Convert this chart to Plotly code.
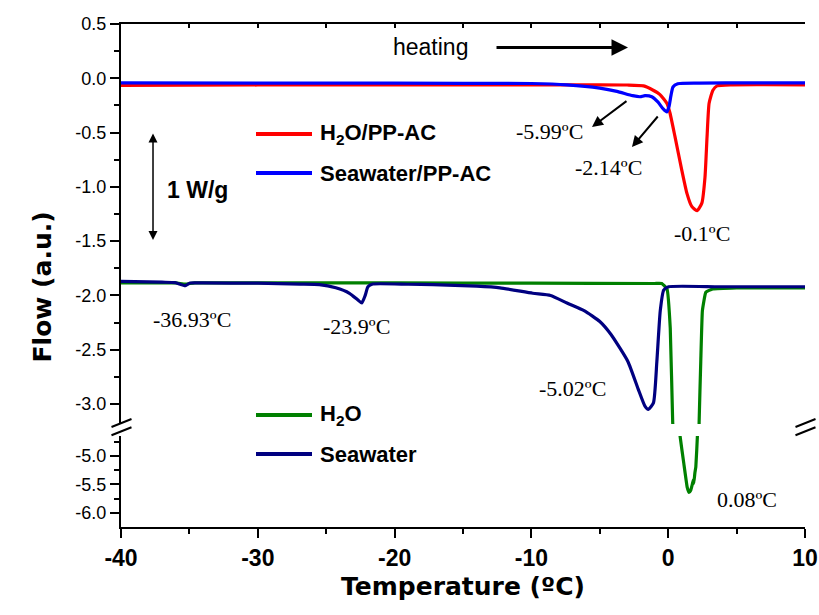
import plotly.graph_objects as go

# ---------------- data ----------------
h2o_ppac_t = [-40, -30, -20, -10, -5, -3, -1.8, -1.1, -0.6, -0.1, 0.13, 0.5, 1.0, 1.37, 1.72,
              2.1, 2.46, 2.69, 2.84, 2.99, 3.27, 3.57, 4.7, 7, 10]
h2o_ppac_flow = [-0.065, -0.062, -0.06, -0.06, -0.06, -0.062, -0.07, -0.11, -0.15, -0.23, -0.32,
                 -0.54, -0.85, -1.06, -1.18, -1.22, -1.15, -0.91, -0.54, -0.23, -0.11, -0.07,
                 -0.06, -0.058, -0.062]

sea_ppac_t = [-40, -25, -15, -10, -7.4, -5.0, -3.75, -2.6, -2.05, -1.7, -1.2, -0.74, -0.38,
              -0.1, 0.06, 0.2, 0.35, 0.7, 2.3, 6, 10]
sea_ppac_flow = [-0.043, -0.045, -0.046, -0.048, -0.06, -0.09, -0.12, -0.16, -0.17, -0.16,
                 -0.17, -0.22, -0.28, -0.31, -0.26, -0.16, -0.08, -0.05, -0.045, -0.042, -0.042]

h2o_t = [-40, -36, -35.3, -34.6, -20, -10, -1, -0.47, -0.09, 0.15, 0.33, 0.85, 1.14, 1.39,
         1.52, 1.65, 1.77, 1.84, 1.87, 1.95, 2.02, 2.14, 2.26, 2.38, 2.5, 2.75, 3.25, 5, 10]
h2o_flow = [-1.885, -1.885, -1.895, -1.885, -1.885, -1.887, -1.89, -1.89, -1.94, -2.3, -3.17,
            -4.62, -5.13, -5.55, -5.64, -5.6, -5.49, -5.42, -5.48, -5.3, -5.19, -4.62, -3.17,
            -2.61, -2.14, -1.97, -1.94, -1.93, -1.93]

sea_t = [-40, -37, -36.05, -35.3, -34.95, -34, -30, -26.9, -25.5, -24.3, -23.3, -22.7, -22.4,
         -22.15, -21.95, -21.6, -19, -17.2, -14, -12.3, -9.9, -8.6, -7.4, -6.15, -5.0, -4.18,
         -2.94, -2.2, -1.7, -1.45, -1.08, -0.83, -0.58, -0.33, 0.03, 3.75, 10]
sea_flow = [-1.87, -1.878, -1.882, -1.91, -1.885, -1.885, -1.887, -1.895, -1.9, -1.93, -1.98,
            -2.04, -2.07, -2.0, -1.92, -1.895, -1.897, -1.9, -1.915, -1.93, -1.98, -2.0, -2.07,
            -2.14, -2.24, -2.36, -2.61, -2.86, -3.02, -3.05, -2.99, -2.61, -2.14, -1.95, -1.92,
            -1.92, -1.92]

x_tick_vals = [-40, -30, -20, -10, 0, 10]
x_tick_text = ["-40", "-30", "-20", "-10", "0", "10"]
y_up_tick_vals = [0.5, 0.0, -0.5, -1.0, -1.5, -2.0, -2.5, -3.0]
y_up_tick_text = ["0.5", "0.0", "-0.5", "-1.0", "-1.5", "-2.0", "-2.5", "-3.0"]
y_lo_tick_vals = [-5.0, -5.5, -6.0]
y_lo_tick_text = ["-5.0", "-5.5", "-6.0"]

# peak labels: (text, x, y, axis) -- upper axis 'u', lower axis 'l'
peak_text = ["-5.99ºC", "-2.14ºC", "-0.1ºC", "-36.93ºC", "-23.9ºC", "-5.02ºC", "0.08ºC"]
peak_x = [-8.71, -4.33, 2.47, -34.81, -22.82, -6.96, 5.76]
peak_y = [-0.486, -0.817, -1.434, -2.226, -2.282, -2.853, -5.77]
peak_axis = ["u", "u", "u", "u", "u", "u", "l"]

names = ["H<sub>2</sub>O/PP-AC", "Seawater/PP-AC", "H<sub>2</sub>O", "Seawater"]
colors = ["#FF0000", "#0000FF", "#008000", "#000080"]

# ---------------- layout geometry ----------------
W, H = 819, 615
L, R, T, B = 121, 805, 24, 527           # plot area in pixels
up_bottom_px, lo_top_px = 424, 436        # axis break
ph = B - T
up_dom = [(B - up_bottom_px) / ph, 1.0]
lo_dom = [0.0, (B - lo_top_px) / ph]
up_range = [-3.184, 0.5]
lo_range = [-6.246, -4.65]

SANS = "Liberation Sans, Arial, sans-serif"
SERIF = "Liberation Serif, Times New Roman, serif"

fig = go.Figure()
LW = 3.2
SM = 0.5
fig.add_trace(go.Scatter(x=h2o_ppac_t, y=h2o_ppac_flow, mode="lines", name=names[0],
                         line=dict(color=colors[0], width=LW, shape="spline", smoothing=SM),
                         xaxis="x2", yaxis="y"))
fig.add_trace(go.Scatter(x=sea_ppac_t, y=sea_ppac_flow, mode="lines", name=names[1],
                         line=dict(color=colors[1], width=LW, shape="spline", smoothing=SM),
                         xaxis="x2", yaxis="y"))
fig.add_trace(go.Scatter(x=h2o_t, y=h2o_flow, mode="lines", name=names[2],
                         line=dict(color=colors[2], width=LW, shape="spline", smoothing=0.3),
                         xaxis="x2", yaxis="y"))
fig.add_trace(go.Scatter(x=h2o_t, y=h2o_flow, mode="lines", name=names[2], showlegend=False,
                         line=dict(color=colors[2], width=LW, shape="spline", smoothing=0.3),
                         xaxis="x", yaxis="y2"))
fig.add_trace(go.Scatter(x=sea_t, y=sea_flow, mode="lines", name=names[3],
                         line=dict(color=colors[3], width=LW, shape="spline", smoothing=SM),
                         xaxis="x2", yaxis="y"))

axline = dict(showline=True, linecolor="black", linewidth=2, showgrid=False, zeroline=False,
              automargin=False)

fig.update_layout(
    width=W, height=H,
    margin=dict(l=L, r=W - R, t=T, b=H - B, autoexpand=False),
    plot_bgcolor="white", paper_bgcolor="white",
    showlegend=False,
    font=dict(family=SANS, color="black"),
    xaxis=dict(**axline, domain=[0, 1], anchor="y2", range=[-40, 10],
               tickmode="array", tickvals=x_tick_vals, ticktext=x_tick_text,
               ticks="outside", ticklen=9, tickwidth=2, tickcolor="black",
               tickfont=dict(size=23, family=SANS, weight="bold"),
               minor=dict(tickmode="linear", tick0=0, dtick=5, ticks="outside", ticklen=5,
                          tickwidth=2, tickcolor="black"),
               title=dict(text="Temperature (ºC)", font=dict(size=25, family="DejaVu Sans", weight="bold"),
                          standoff=8)),
    xaxis2=dict(**axline, domain=[0, 1], anchor="y", side="top", range=[-40, 10],
                tickmode="array", tickvals=x_tick_vals, showticklabels=False,
                ticks="inside", ticklen=4, tickwidth=1.5, tickcolor="black",
                minor=dict(tickmode="linear", tick0=0, dtick=5, ticks="inside", ticklen=4,
                           tickwidth=1.5, tickcolor="black")),
    yaxis=dict(**axline, domain=up_dom, anchor="x2", range=up_range,
               tickmode="array", tickvals=y_up_tick_vals, ticktext=y_up_tick_text,
               ticks="outside", ticklen=9, tickwidth=2, tickcolor="black",
               tickfont=dict(size=18, family=SANS),
               minor=dict(tickmode="linear", tick0=0, dtick=0.25, ticks="outside", ticklen=5,
                          tickwidth=2, tickcolor="black")),
    yaxis2=dict(**axline, domain=lo_dom, anchor="x", range=lo_range,
                tickmode="array", tickvals=y_lo_tick_vals, ticktext=y_lo_tick_text,
                ticks="outside", ticklen=9, tickwidth=2, tickcolor="black",
                tickfont=dict(size=18, family=SANS),
                minor=dict(tickmode="linear", tick0=0, dtick=0.25, ticks="outside", ticklen=5,
                           tickwidth=2, tickcolor="black")),
    yaxis3=dict(**axline, overlaying="y", side="right", anchor="x2", range=up_range,
                tickmode="array", tickvals=y_up_tick_vals, showticklabels=False,
                ticks="inside", ticklen=4, tickwidth=1.5, tickcolor="black",
                minor=dict(tickmode="linear", tick0=0, dtick=0.25, ticks="inside", ticklen=4,
                           tickwidth=1.5, tickcolor="black")),
    yaxis4=dict(**axline, overlaying="y2", side="right", anchor="x", range=lo_range,
                tickmode="array", tickvals=y_lo_tick_vals, showticklabels=False,
                ticks="inside", ticklen=4, tickwidth=1.5, tickcolor="black",
                minor=dict(tickmode="linear", tick0=0, dtick=0.25, ticks="inside", ticklen=4,
                           tickwidth=1.5, tickcolor="black")),
)

# y-axis title (spans both broken segments)
fig.add_annotation(text="Flow (a.u.)", xref="paper", yref="paper",
                   x=(25 - L) / (R - L), y=(B - 287) / ph, textangle=-90, showarrow=False,
                   font=dict(size=25, family="DejaVu Sans", weight="bold"))

# axis-break marks
def px2paper(px, py):
    return (px - L) / (R - L), (B - py) / ph

for x0 in (L, R):
    for dy in (0, 8.3):
        xa, ya = px2paper(x0 - 9.5, 427 + dy)
        xb, yb = px2paper(x0 + 10.5, 419 + dy)
        fig.add_shape(type="line", xref="paper", yref="paper", x0=xa, y0=ya, x1=xb, y1=yb,
                      line=dict(color="black", width=2))

# peak labels
for t, x, y, a in zip(peak_text, peak_x, peak_y, peak_axis):
    fig.add_annotation(text=t, x=x, y=y, xref="x2" if a == "u" else "x",
                       yref="y" if a == "u" else "y2", showarrow=False,
                       font=dict(size=22, family=SERIF))

# pointer arrows
for (hx, hy, tx, ty) in [(-5.57, -0.449, -2.94, -0.20), (-2.65, -0.633, -0.67, -0.338)]:
    fig.add_annotation(text="", x=hx, y=hy, ax=tx, ay=ty, xref="x2", yref="y",
                       axref="x2", ayref="y", showarrow=True, arrowhead=2, arrowsize=1.1,
                       arrowwidth=2, arrowcolor="black")

# heating arrow
fig.add_annotation(text="heating", x=-17.34, y=0.288, xref="x2", yref="y", showarrow=False,
                   font=dict(size=23, family=SANS))
fig.add_annotation(text="", x=-2.94, y=0.284, ax=-12.66, ay=0.284, xref="x2", yref="y",
                   axref="x2", ayref="y", showarrow=True, arrowhead=2, arrowsize=1.1,
                   arrowwidth=3, arrowcolor="black")

# 1 W/g scale bar
fig.add_annotation(text="", x=-37.66, y=-1.489, ax=-37.66, ay=-0.495, xref="x2", yref="y",
                   axref="x2", ayref="y", showarrow=True, arrowhead=2, arrowside="end+start",
                   arrowsize=1.2, arrowwidth=1.5, arrowcolor="black")
fig.add_annotation(text="<b>1 W/g</b>", x=-36.78, y=-1.029, xref="x2", yref="y",
                   xanchor="left", showarrow=False, font=dict(size=23, family=SANS))

# legends drawn with long line samples as in the reference
leg_y_px = [134, 173, 415, 454]
for name, col, ypx in zip(names, colors, leg_y_px):
    xa, ya = px2paper(256, ypx)
    xb, _ = px2paper(312, ypx)
    fig.add_shape(type="line", xref="paper", yref="paper", x0=xa, y0=ya, x1=xb, y1=ya,
                  line=dict(color=col, width=4))
    xt, _ = px2paper(318, ypx)
    fig.add_annotation(text="<b>" + name + "</b>", xref="paper", yref="paper", x=xt, y=ya,
                       xanchor="left", yanchor="middle", showarrow=False,
                       font=dict(size=22, family=SANS))

fig.write_html("out.html", config={"displayModeBar": False},
               post_script="document.body.style.margin='0px';")
